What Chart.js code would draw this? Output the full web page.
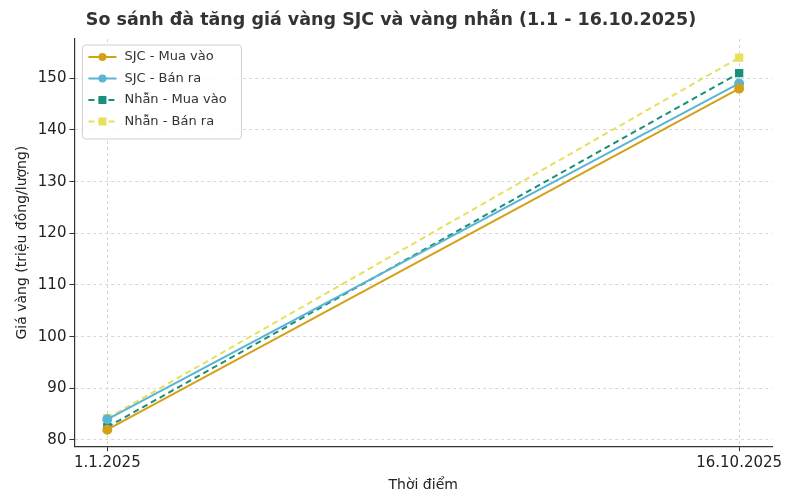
<!DOCTYPE html>
<html>
<head>
<meta charset="utf-8">
<script src="https://cdn.jsdelivr.net/npm/chart.js@4"></script>
<style>
  html, body { margin: 0; padding: 0; background: #fff; }
  #wrap { width: 806px; height: 504px; }
</style>
</head>
<body>
<div id="wrap"><canvas id="chart"></canvas></div>
<script>
const categories = ['1.1.2025', '16.10.2025'];
const sjcMua = [82, 148];
const sjcBan = [84, 149];
const nhanMua = [82.5, 151];
const nhanBan = [84.2, 154];
const yTicks = [80, 90, 100, 110, 120, 130, 140, 150];

const font = 'DejaVu Sans';

function series(label, data, color, style, dashed) {
  return {
    label: label,
    data: data.map((v, i) => ({ x: i, y: v })),
    borderColor: color,
    backgroundColor: color,
    borderWidth: 2,
    borderDash: dashed ? [6, 4] : [],
    pointStyle: style,
    pointRadius: style === 'rect' ? 4.5 : 4,
    pointHoverRadius: 5,
    tension: 0
  };
}

// legend drawn inside the plot area, top-left
const innerLegend = {
  id: 'innerLegend',
  afterDraw(chart) {
    const c = chart.ctx, a = chart.chartArea;
    const x0 = a.left + 8, y0 = a.top + 6, rowH = 21.5;
    const w = 159, h = rowH * chart.data.datasets.length + 8;
    c.save();
    c.fillStyle = 'rgba(255,255,255,0.85)';
    c.strokeStyle = '#d0d0d0';
    c.lineWidth = 1;
    c.beginPath();
    c.roundRect(x0, y0, w, h, 3);
    c.fill(); c.stroke();
    c.font = '13px ' + font;
    c.textBaseline = 'middle';
    chart.data.datasets.forEach((ds, i) => {
      const y = y0 + 12 + i * rowH;
      c.strokeStyle = ds.borderColor;
      c.fillStyle = ds.borderColor;
      c.lineWidth = 2;
      c.setLineDash(ds.borderDash);
      c.beginPath(); c.moveTo(x0 + 6, y); c.lineTo(x0 + 34, y); c.stroke();
      c.setLineDash([]);
      if (ds.pointStyle === 'rect') c.fillRect(x0 + 16, y - 4, 8, 8);
      else { c.beginPath(); c.arc(x0 + 20, y, 4, 0, Math.PI * 2); c.fill(); }
      c.fillStyle = '#333';
      c.fillText(ds.label, x0 + 42, y);
    });
    c.restore();
  }
};

new Chart(document.getElementById('chart').getContext('2d'), {
  type: 'line',
  data: {
    datasets: [
      series('SJC - Mua vào', sjcMua, '#d4a017', 'circle', false),
      series('SJC - Bán ra', sjcBan, '#5ab4d2', 'circle', false),
      series('Nhẫn - Mua vào', nhanMua, '#1a8f7a', 'rect', true),
      series('Nhẫn - Bán ra', nhanBan, '#e8e05a', 'rect', true)
    ]
  },
  options: {
    responsive: true,
    maintainAspectRatio: false,
    animation: false,
    layout: { padding: { left: 10, right: 34, top: 2, bottom: 6 } },
    plugins: {
      legend: { display: false },
      tooltip: { enabled: false },
      title: {
        display: true,
        text: 'So sánh đà tăng giá vàng SJC và vàng nhẫn (1.1 - 16.10.2025)',
        color: '#333',
        font: { family: font, size: 17.5, weight: 'bold' },
        padding: { top: 8, bottom: 8 }
      }
    },
    scales: {
      x: {
        type: 'linear',
        min: -0.052,
        max: 1.052,
        afterBuildTicks: ax => { ax.ticks = categories.map((_, i) => ({ value: i })); },
        ticks: {
          callback: v => categories[v],
          color: '#222',
          font: { family: font, size: 15 },
          maxRotation: 0
        },
        grid: { color: '#d6d6d6', tickColor: '#333', tickLength: 5 },
        border: { color: '#333', width: 1.2, dash: [3, 3] },
        title: { display: true, text: 'Thời điểm', color: '#222', font: { family: font, size: 14 }, padding: { top: 2 } }
      },
      y: {
        min: 78.8,
        max: 157.6,
        afterBuildTicks: ax => { ax.ticks = yTicks.map(v => ({ value: v })); },
        ticks: { color: '#222', font: { family: font, size: 15 } },
        grid: { color: '#d6d6d6', tickColor: '#333', tickLength: 5 },
        border: { color: '#333', width: 1.2, dash: [3, 3] },
        title: { display: true, text: 'Giá vàng (triệu đồng/lượng)', color: '#222', font: { family: font, size: 14 } }
      }
    }
  },
  plugins: [innerLegend]
});
</script>
</body>
</html>
